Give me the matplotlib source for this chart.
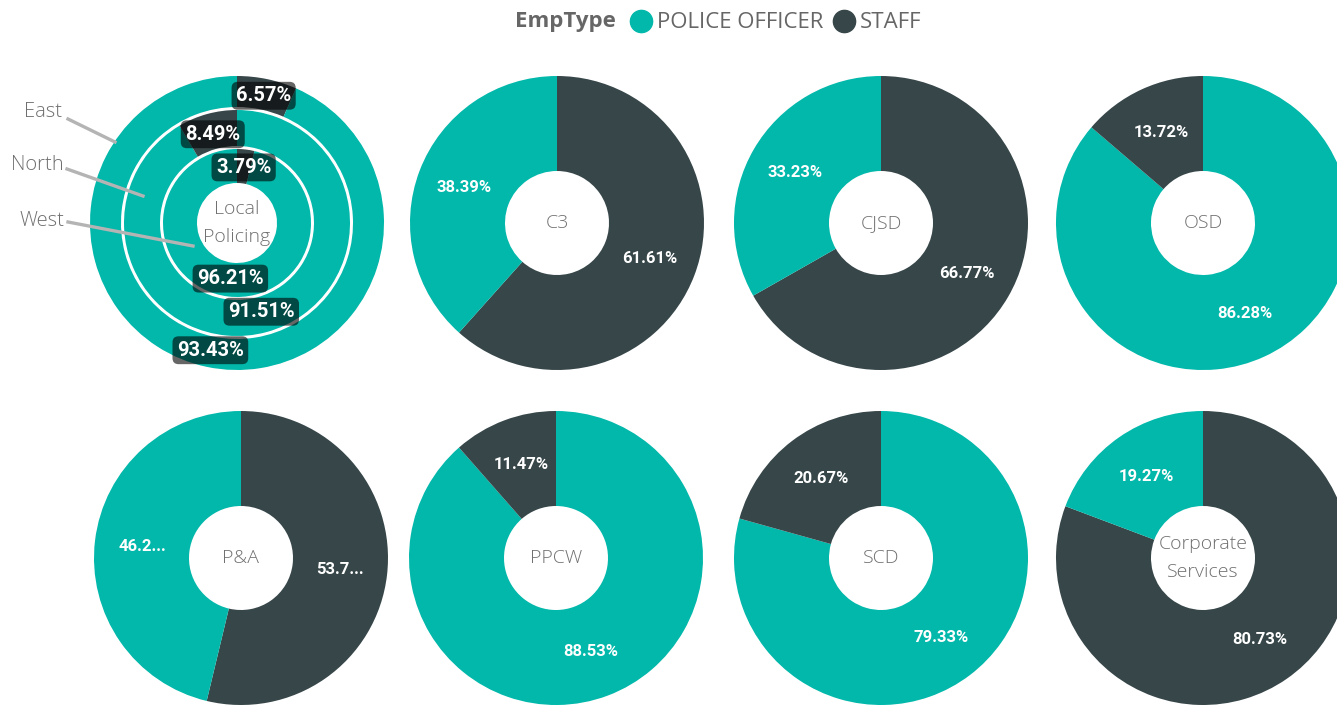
import matplotlib
matplotlib.use("Agg")
import matplotlib.pyplot as plt
from matplotlib.lines import Line2D
import numpy as np

W, H = 1337, 705

# ---------------- data ----------------
emp_types = ["POLICE OFFICER", "STAFF"]
colors = ["#01B8AA", "#374649"]

lp_title = "Local\nPolicing"
lp_regions = ["East", "North", "West"]
lp_police = [93.43, 91.51, 96.21]
lp_staff = [6.57, 8.49, 3.79]
lp_staff_first = [True, False, True]

departments = ["C3", "CJSD", "OSD", "P&A", "PPCW", "SCD", "Corporate\nServices"]
dept_police = [38.39, 33.23, 86.28, 46.25, 88.53, 79.33, 19.27]
dept_staff = [61.61, 66.77, 13.72, 53.75, 11.47, 20.67, 80.73]
dept_truncate = [False, False, False, True, False, False, False]

# ---------------- layout ----------------
R = 147
centers = [(557, 223), (881, 223), (1203, 223),
           (241, 558), (556, 558), (881, 558), (1203, 558)]
lp_center = (237, 223)

LABEL_FONT = "Roboto"
TEXT_FONT = "Open Sans"
GRAY = "#6f6f6f"

fig = plt.figure(figsize=(W / 100, H / 100), dpi=100)
fig.patch.set_facecolor("white")


def fx(x):
    return x / W


def fy(y):
    return 1 - y / H


def donut_ax(cx, cy):
    ax = fig.add_axes([fx(cx - R), fy(cy + R), 2 * R / W, 2 * R / H])
    return ax


def finish(ax):
    ax.set_xlim(-1, 1)
    ax.set_ylim(-1, 1)
    ax.set_aspect("equal")
    ax.axis("off")


def fmt(v, trunc=False):
    s = f"{v:.2f}%"
    if trunc:
        s = s[:4] + "..."
    return s


# ---------------- department donuts ----------------
hole = 52 / R
for (cx, cy), name, pol, stf, tr in zip(centers, departments, dept_police,
                                         dept_staff, dept_truncate):
    ax = donut_ax(cx, cy)
    vals = [pol, stf]
    cols = colors[:]
    if stf > pol:
        vals = [stf, pol]
        cols = [colors[1], colors[0]]
    wedges, _ = ax.pie(vals, colors=cols, startangle=90, counterclock=False,
                       radius=1, wedgeprops=dict(width=1 - hole, linewidth=0))
    rl = (1 + hole) / 2
    for w, v in zip(wedges, vals):
        th = np.deg2rad((w.theta1 + w.theta2) / 2)
        ax.text(rl * np.cos(th), rl * np.sin(th), fmt(v, tr), color="white",
                fontsize=12, fontweight="bold", family=LABEL_FONT,
                ha="center", va="center")
    ax.text(0, 0, name, color=GRAY, fontsize=14, family=TEXT_FONT,
            fontweight="light", ha="center", va="center", linespacing=1.65)
    finish(ax)

# ---------------- Local Policing nested donut ----------------
ax = donut_ax(*lp_center)
rings = [(147, 116), (113, 77), (74, 40)]
label_r = [130, 92, 56]
for (ro, ri), lr, pol, stf, sf in zip(rings, label_r, lp_police, lp_staff,
                                      lp_staff_first):
    if sf:
        vals, cols = [stf, pol], [colors[1], colors[0]]
    else:
        vals, cols = [pol, stf], [colors[0], colors[1]]
    wedges, _ = ax.pie(vals, colors=cols, startangle=90, counterclock=False,
                       radius=ro / R,
                       wedgeprops=dict(width=(ro - ri) / R, linewidth=0))
    for w, v in zip(wedges, vals):
        th = np.deg2rad((w.theta1 + w.theta2) / 2)
        ax.text(lr / R * np.cos(th), lr / R * np.sin(th), fmt(v),
                color="white", fontsize=14.5, fontweight="bold",
                family=LABEL_FONT, ha="center", va="center",
                bbox=dict(boxstyle="round,pad=0.22,rounding_size=0.3",
                          fc="black", ec="none", alpha=0.6))
ax.text(0, 0, lp_title, color=GRAY, fontsize=14, family=TEXT_FONT,
        fontweight="light", ha="center", va="center", linespacing=1.65)
finish(ax)

# region labels with leader lines
leader = [((68, 119), (115, 142), (62, 112)),
          ((67, 169), (143, 196), (64, 165)),
          ((68, 222), (193, 246), (65, 221))]
for name, (p0, p1, tp) in zip(lp_regions, leader):
    fig.add_artist(Line2D([fx(p0[0]), fx(p1[0])], [fy(p0[1]), fy(p1[1])],
                          color="#b4b4b4", lw=2.4,
                          transform=fig.transFigure))
    fig.text(fx(tp[0]), fy(tp[1]), name, color=GRAY, fontsize=14.5,
             family=TEXT_FONT, fontweight="light", ha="right", va="center")

# ---------------- legend ----------------
fig.text(fx(515), fy(22), "EmpType", color="#666666", fontsize=16,
         family=TEXT_FONT, fontweight="bold", ha="left", va="center")
handles = [Line2D([], [], marker="o", linestyle="none", markersize=16,
                  markerfacecolor=c, markeredgecolor=c) for c in colors]
fig.legend(handles, emp_types, loc="center left",
           bbox_to_anchor=(fx(630), fy(23)), ncol=2, frameon=False,
           handletextpad=0.2, columnspacing=0.45, handlelength=1.0,
           borderaxespad=0, borderpad=0,
           prop=dict(family=TEXT_FONT, size=16), labelcolor="#666666")

fig.savefig("out.png", dpi=100, facecolor="white")
